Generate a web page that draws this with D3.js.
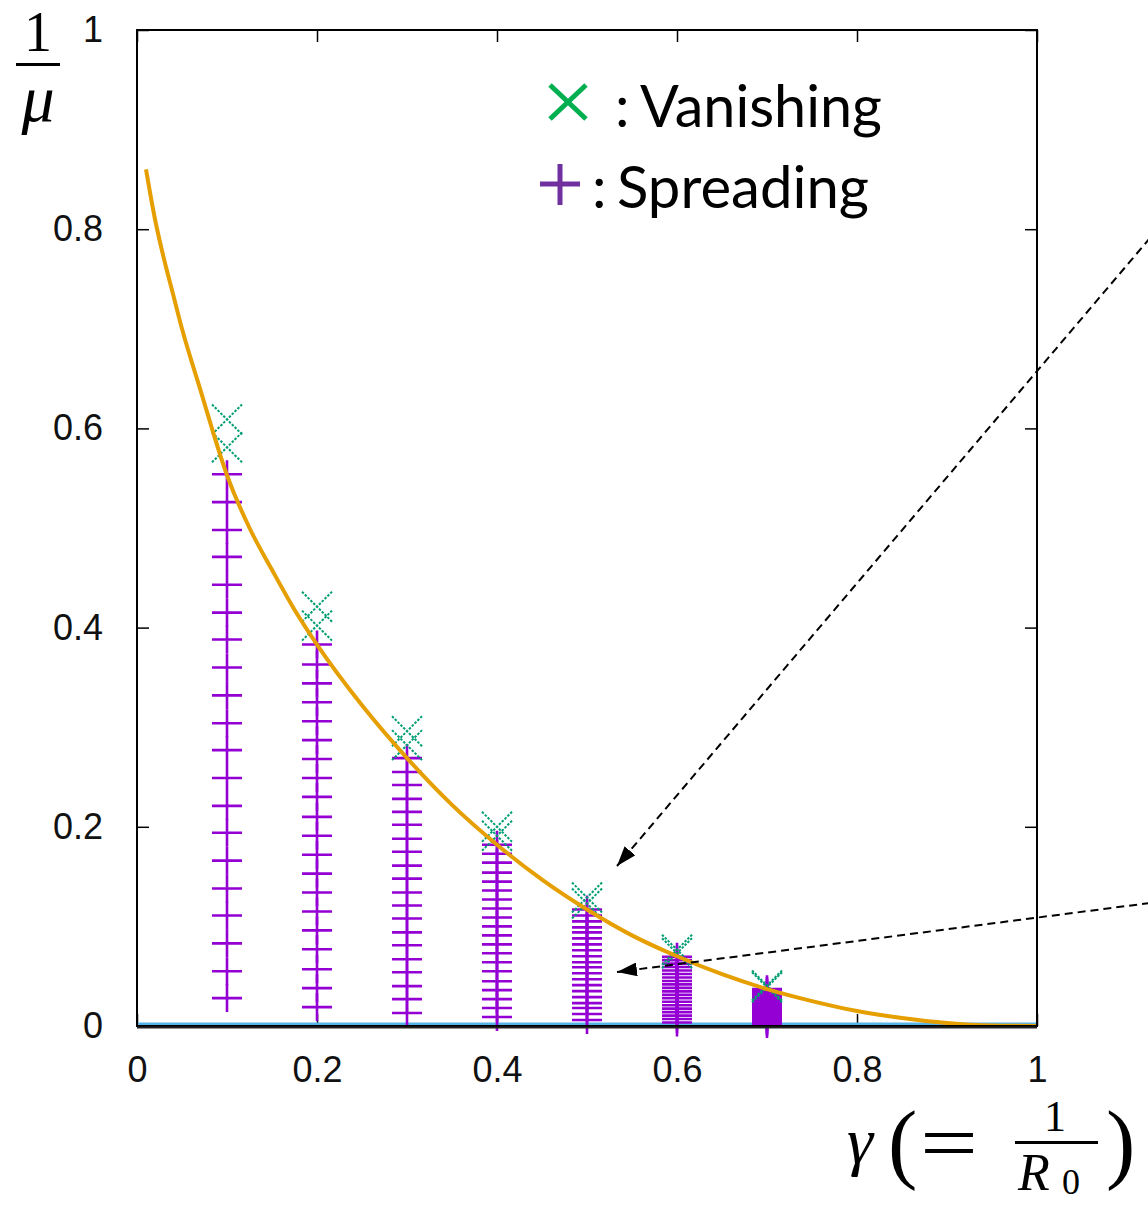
<!DOCTYPE html>
<html>
<head>
<meta charset="utf-8">
<style>
  body { margin: 0; background: #fff; }
  text { font-family: "Liberation Sans", Arial, sans-serif; }
</style>
</head>
<body>
<svg id="workspace" width="1148" height="1209"></svg>

<script src="https://d3js.org/d3.v7.min.js"></script>
<script>
    const WIDTH = 1148;
    const HEIGHT = 1209;

    // gamma columns where the simulation was run
    const gammaCols = [0.1, 0.2, 0.3, 0.4, 0.5, 0.6, 0.7];

    // 1/mu values that spread (purple +), one list per column
    const spreading = [
        [0.028,0.055,0.083,0.111,0.138,0.166,0.194,0.221,0.249,0.277,0.304,0.332,0.360,0.388,0.415,0.443,0.471,0.498,0.526,0.554],
        [0.019,0.038,0.057,0.077,0.096,0.115,0.134,0.153,0.172,0.191,0.210,0.230,0.249,0.268,0.287,0.306,0.325,0.344,0.363,0.383],
        [0.013,0.027,0.040,0.054,0.067,0.081,0.094,0.108,0.121,0.134,0.148,0.161,0.175,0.188,0.202,0.215,0.228,0.242,0.255,0.269],
        [0.009,0.018,0.027,0.036,0.045,0.055,0.064,0.073,0.082,0.091,0.100,0.109,0.118,0.127,0.136,0.145,0.154,0.164,0.173,0.182],
        [0.006,0.012,0.018,0.023,0.029,0.035,0.041,0.047,0.053,0.059,0.064,0.070,0.076,0.082,0.088,0.094,0.099,0.105,0.111,0.117],
        [0.0035,0.0070,0.0104,0.0139,0.0174,0.0209,0.0244,0.0278,0.0313,0.0348,0.0383,0.0418,0.0452,0.0487,0.0522,0.0557,0.0592,0.0626,0.0661,0.0696],
        [0.0019,0.0037,0.0056,0.0074,0.0093,0.0111,0.0130,0.0148,0.0167,0.0185,0.0204,0.0222,0.0241,0.0259,0.0278,0.0296,0.0315,0.0333,0.0352,0.0370]
    ];

    // 1/mu values that vanish (green x)
    const vanishing = [
        [0.581, 0.609],
        [0.402, 0.421],
        [0.282, 0.296],
        [0.191, 0.200],
        [0.123, 0.129],
        [0.0731, 0.0766],
        [0.0389, 0.0407]
    ];

    // threshold curve
    const curveG = [0.01,0.02,0.03,0.04,0.05,0.07,0.1,0.125,0.15,0.175,0.2,0.25,0.3,0.35,0.4,0.45,0.5,0.55,0.6,0.65,0.7,0.75,0.8,0.85,0.9,0.95,1.0];
    const curveV = [0.86,0.81,0.77,0.735,0.70,0.64,0.553,0.50,0.458,0.418,0.383,0.322,0.269,0.222,0.182,0.147,0.117,0.091,0.070,0.052,0.037,0.025,0.015,0.008,0.003,0.0005,0.0];

    const xTicks = [0, 0.2, 0.4, 0.6, 0.8, 1];
    const xTickLabels = ['0', '0.2', '0.4', '0.6', '0.8', '1'];
    const yTicks = [0, 0.2, 0.4, 0.6, 0.8, 1];
    const yTickLabels = ['0', '0.2', '0.4', '0.6', '0.8', '1'];

    const PURPLE = '#9400d3';
    const TEAL = '#009e73';
    const ORANGE = '#e69f00';
    const SKY = '#56b4e9';

    let svg = d3.select('#workspace');

    let x = d3.scaleLinear().domain([0, 1]).range([137, 1037]);
    let y = d3.scaleLinear().domain([0, 1]).range([1026, 30]);

    // axes, ticks pointing inwards (gnuplot style)
    function styleAxis(g) {
        g.select('.domain').remove();
        g.selectAll('line').attr('stroke', '#000').attr('stroke-width', 1.5);
        g.selectAll('text').attr('font-size', 36).attr('fill', '#111')
            .style('font-family', '"Liberation Sans", Arial, sans-serif');
    }

    svg.append('g').attr('transform', 'translate(0,1026)')
        .call(d3.axisBottom(x).tickValues(xTicks).tickSize(-12).tickPadding(30)
            .tickFormat((d, i) => xTickLabels[i]))
        .call(styleAxis);
    svg.append('g').attr('transform', 'translate(0,30)')
        .call(d3.axisTop(x).tickValues(xTicks).tickSize(-12).tickFormat(''))
        .call(styleAxis);
    svg.append('g').attr('transform', 'translate(137,0)')
        .call(d3.axisLeft(y).tickValues(yTicks).tickSize(-12).tickPadding(34)
            .tickFormat((d, i) => yTickLabels[i]))
        .call(styleAxis);
    svg.append('g').attr('transform', 'translate(1037,0)')
        .call(d3.axisRight(y).tickValues(yTicks).tickSize(-12).tickFormat(''))
        .call(styleAxis);

    // y = 0 line
    svg.append('line')
        .attr('x1', x(0)).attr('x2', x(1))
        .attr('y1', y(0) - 2).attr('y2', y(0) - 2)
        .attr('stroke', SKY).attr('stroke-width', 3);

    // spreading points (+)
    let plusPts = [];
    gammaCols.forEach(function(g, i) {
        spreading[i].forEach(function(v) { plusPts.push([g, v]); });
    });
    svg.append('g').selectAll('path').data(plusPts).enter().append('path')
        .attr('transform', d => 'translate(' + x(d[0]) + ',' + y(d[1]) + ')')
        .attr('d', 'M-15,0H15M0,-14V14')
        .attr('stroke', PURPLE).attr('stroke-width', 2.6).attr('fill', 'none');

    // vanishing points (x)
    let crossPts = [];
    gammaCols.forEach(function(g, i) {
        vanishing[i].forEach(function(v) { crossPts.push([g, v]); });
    });
    svg.append('g').selectAll('path').data(crossPts).enter().append('path')
        .attr('transform', d => 'translate(' + x(d[0]) + ',' + y(d[1]) + ')')
        .attr('d', 'M-15,-15L15,15M-15,15L15,-15')
        .attr('stroke', TEAL).attr('stroke-width', 2).attr('stroke-dasharray', '2.5,1.5')
        .attr('fill', 'none');

    // threshold curve
    let line = d3.line()
        .x((d, i) => x(curveG[i]))
        .y(d => y(d))
        .curve(d3.curveMonotoneX);
    svg.append('path')
        .attr('d', line(curveV))
        .attr('fill', 'none')
        .attr('stroke', ORANGE)
        .attr('stroke-width', 4);

    // frame
    svg.append('rect')
        .attr('x', 137).attr('y', 30)
        .attr('width', 900).attr('height', 996)
        .attr('fill', 'none').attr('stroke', '#000').attr('stroke-width', 2);
    svg.append('line')
        .attr('x1', 137).attr('x2', 1037).attr('y1', 1027.5).attr('y2', 1027.5)
        .attr('stroke', '#222').attr('stroke-width', 2);

    // legend
    svg.append('path')
        .attr('d', 'M550,85L586,119M586,85L550,119')
        .attr('stroke', '#00b050').attr('stroke-width', 5).attr('fill', 'none');
    svg.append('path')
        .attr('d', 'M540,184H580M560,164V205')
        .attr('stroke', '#7030a0').attr('stroke-width', 5).attr('fill', 'none');
    let legFont = 'Lato, "Open Sans", sans-serif';
    svg.append('text').attr('x', 615).attr('y', 127).text(':')
        .style('font-family', legFont).attr('font-size', 58);
    svg.append('text').attr('x', 640).attr('y', 127).text('Vanishing')
        .style('font-family', legFont).attr('font-size', 58)
        .attr('textLength', 242).attr('lengthAdjust', 'spacingAndGlyphs');
    svg.append('text').attr('x', 592).attr('y', 208).text(':')
        .style('font-family', legFont).attr('font-size', 58);
    svg.append('text').attr('x', 617).attr('y', 208).text('Spreading')
        .style('font-family', legFont).attr('font-size', 58)
        .attr('textLength', 252).attr('lengthAdjust', 'spacingAndGlyphs');

    // y axis label: 1/mu
    let serif = '"Liberation Serif", "DejaVu Serif", serif';
    svg.append('text').attr('x', 38).attr('y', 51).attr('text-anchor', 'middle')
        .text('1').style('font-family', serif).attr('font-size', 56);
    svg.append('rect').attr('x', 16).attr('y', 63).attr('width', 44).attr('height', 3).attr('fill', '#000');
    svg.append('text').attr('x', 38).attr('y', 121).attr('text-anchor', 'middle')
        .text('μ').style('font-family', serif).style('font-style', 'italic').attr('font-size', 66);

    // x axis label: gamma(= 1/R0)
    svg.append('text').attr('x', 860).attr('y', 1163).attr('text-anchor', 'middle')
        .text('γ').style('font-family', serif).style('font-style', 'italic').attr('font-size', 66);
    svg.append('text').attr('x', 888).attr('y', 1172)
        .text('(').style('font-family', serif).attr('font-size', 88);
    svg.append('text').attr('x', 920).attr('y', 1170)
        .text('=').style('font-family', serif).attr('font-size', 80)
        .attr('textLength', 58).attr('lengthAdjust', 'spacingAndGlyphs');
    svg.append('text').attr('x', 1055).attr('y', 1131).attr('text-anchor', 'middle')
        .text('1').style('font-family', serif).attr('font-size', 44);
    svg.append('rect').attr('x', 1015).attr('y', 1141).attr('width', 83).attr('height', 3).attr('fill', '#000');
    svg.append('text').attr('x', 1018).attr('y', 1190)
        .text('R').style('font-family', serif).style('font-style', 'italic').attr('font-size', 52);
    svg.append('text').attr('x', 1062).attr('y', 1194)
        .text('0').style('font-family', serif).attr('font-size', 36);
    svg.append('text').attr('x', 1106).attr('y', 1172)
        .text(')').style('font-family', serif).attr('font-size', 88);

    // dashed arrows
    svg.append('defs').append('marker')
        .attr('id', 'head')
        .attr('markerUnits', 'userSpaceOnUse')
        .attr('markerWidth', 20).attr('markerHeight', 14)
        .attr('refX', 20).attr('refY', 7)
        .attr('orient', 'auto')
        .append('path').attr('d', 'M0,0L20,7L0,14z').attr('fill', '#000');

    svg.append('line')
        .attr('x1', 1150).attr('y1', 238).attr('x2', 617).attr('y2', 866)
        .attr('stroke', '#000').attr('stroke-width', 2)
        .attr('stroke-dasharray', '8,5').attr('marker-end', 'url(#head)');
    svg.append('line')
        .attr('x1', 1150).attr('y1', 903).attr('x2', 617).attr('y2', 972)
        .attr('stroke', '#000').attr('stroke-width', 2)
        .attr('stroke-dasharray', '8,5').attr('marker-end', 'url(#head)');
</script>
</body>
</html>
